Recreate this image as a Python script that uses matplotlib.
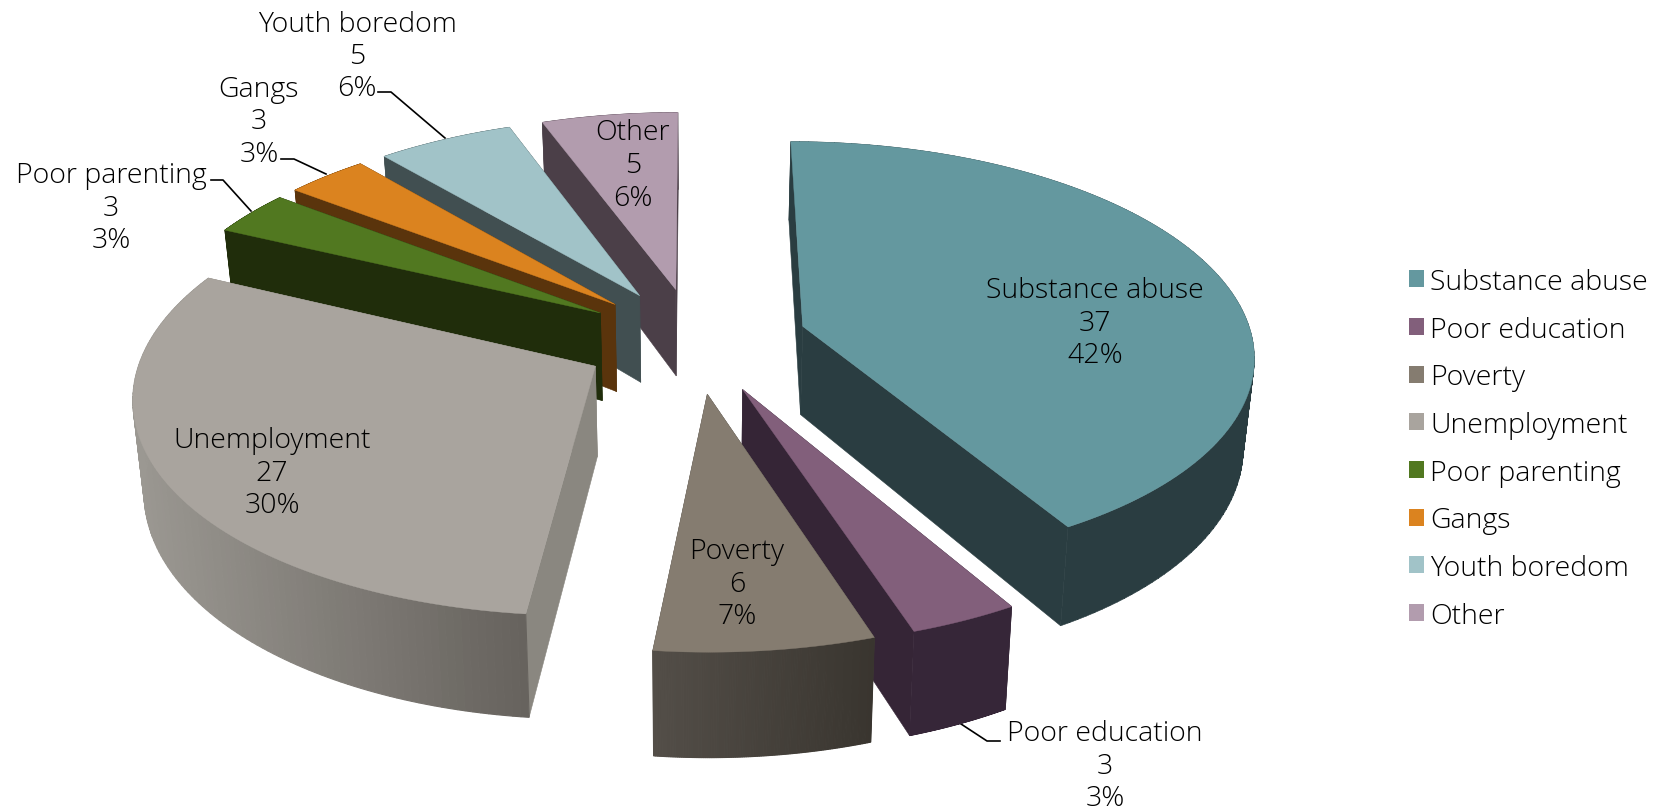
import numpy as np
import matplotlib
matplotlib.use("Agg")
import matplotlib.pyplot as plt
from matplotlib.patches import Patch, PathPatch
from matplotlib.path import Path
from matplotlib.colors import to_rgb

# data
categories = ["Substance abuse", "Poor education", "Poverty", "Unemployment",
              "Poor parenting", "Gangs", "Youth boredom", "Other"]
values = [37, 3, 6, 27, 3, 3, 5, 5]

# colours: top face, rim at left, rim at right, cut face
top_colors = ["#64989F", "#825F7B", "#857C70", "#A9A49E", "#517820", "#DB831F", "#A1C3C8", "#B29CAE"]
rim_left = ["#2A3D41", "#362638", "#534E48", "#9B9892", "#202D0B", "#5A340C", "#414F51", "#4B3F48"]
rim_right = ["#2A3D41", "#362638", "#39352F", "#66625D", "#202D0B", "#5A340C", "#414F51", "#4B3F48"]
cut_colors = ["#2A3D41", "#352536", "#4A453F", "#8A8780", "#202D0B", "#5A340C", "#414F51", "#4B3F48"]

# label centres and leader lines, in figure pixels
label_pos = [(1095, 324), (1105, 767), (737, 585), (272, 474),
             (111, 209), (259, 122), (357, 57), (633, 166)]
leaders = {
    1: [(958, 723), (987, 742), (1000, 742)],
    4: [(211, 181), (223, 181), (251, 212)],
    5: [(281, 160), (294, 160), (326, 175)],
    6: [(378, 93), (391, 93), (445, 139)],
}

# pie geometry
CX, CY = 695, 341
SX, SY = 450, 211
PERSP = 0.125
EXPLODE = 0.25
DEPTH = 89
BOTTOM_SHRINK = 0.98
FONT = "Open Sans"
FSIZE = 20.5
LINE_STEP = 32.5


def project(gx, gy):
    w = 1 / (1 - PERSP * gy)
    return CX + SX * gx * w, CY + SY * gy * w, w


def lower(x, y, w):
    return CX + (x - CX) * BOTTOM_SHRINK, y + DEPTH * w


def slice_points(start, end, explode=EXPLODE, n=120):
    mid = (start + end) / 2
    ox, oy = explode * np.sin(mid), -explode * np.cos(mid)
    th = np.linspace(start, end, n)
    ax_, ay_, aw = project(ox, oy)
    rx, ry, rw = project(ox + np.sin(th), oy - np.cos(th))
    return (ax_, ay_, aw), (rx, ry, rw)


def band_path(rx, ry, bx, by):
    # all quads in one path, same winding, so there are no seams between them
    verts, codes = [], []
    for k in range(len(rx) - 1):
        q = [(rx[k], ry[k]), (rx[k + 1], ry[k + 1]), (bx[k + 1], by[k + 1]), (bx[k], by[k])]
        area = sum(q[m][0] * q[(m + 1) % 4][1] - q[(m + 1) % 4][0] * q[m][1] for m in range(4))
        if area < 0:
            q = q[::-1]
        verts += q + [q[0]]
        codes += [Path.MOVETO, Path.LINETO, Path.LINETO, Path.LINETO, Path.CLOSEPOLY]
    return Path(verts, codes)


fig = plt.figure(figsize=(16.72, 8.12), dpi=100)
ax = fig.add_axes([0, 0, 1, 1])
ax.set_xlim(0, 1672)
ax.set_ylim(812, 0)
ax.axis("off")

fracs = np.array(values) / sum(values)
edges = np.concatenate([[0], np.cumsum(fracs)]) * 2 * np.pi

# back slices first
draw_order = [7, 6, 5, 4, 0, 1, 3, 2]

for pos, i in enumerate(draw_order):
    (ax_, ay_, aw), (rx, ry, rw) = slice_points(edges[i], edges[i + 1])
    bx, by = lower(rx, ry, rw)
    abx, aby = lower(ax_, ay_, aw)

    # cut faces
    for j in (0, -1):
        ax.fill([ax_, rx[j], bx[j], abx], [ay_, ry[j], by[j], aby],
                color=cut_colors[i], lw=0.4, zorder=pos * 3 + 1)

    # rim, split up only when it has a gradient
    if rim_left[i] == rim_right[i]:
        ax.add_patch(PathPatch(band_path(rx, ry, bx, by), facecolor=rim_left[i], edgecolor=rim_left[i],
                               lw=0.4, zorder=pos * 3 + 2))
    else:
        c0 = np.array(to_rgb(rim_left[i]))
        c1 = np.array(to_rgb(rim_right[i]))
        xmin, xmax = rx.min(), rx.max()
        for k in range(len(rx) - 1):
            t = ((rx[k] + rx[k + 1]) / 2 - xmin) / (xmax - xmin)
            ax.fill([rx[k], rx[k + 1], bx[k + 1], bx[k]], [ry[k], ry[k + 1], by[k + 1], by[k]],
                    color=tuple(c0 + (c1 - c0) * t), lw=0.8, zorder=pos * 3 + 2)

    # top face
    ax.fill(np.r_[ax_, rx], np.r_[ay_, ry], color=top_colors[i], lw=0.3, zorder=pos * 3 + 3)

# each label line is its own text, on a shared baseline step
total = sum(values)
for i, (x, y) in enumerate(label_pos):
    lines = [categories[i], str(values[i]), f"{round(values[i] / total * 100)}%"]
    for n, line in enumerate(lines):
        ax.text(x, y + 7 + (n - 1) * LINE_STEP, line, ha="center", va="baseline", family=FONT,
                fontweight="light", fontsize=FSIZE, color="black", zorder=50)

for pts in leaders.values():
    ax.plot([p[0] for p in pts], [p[1] for p in pts], color="black", lw=1.2, zorder=2)

handles = [Patch(facecolor=c, edgecolor="none", label=n) for c, n in zip(top_colors, categories)]
leg = ax.legend(handles=handles, loc="upper left", bbox_to_anchor=(1409 / 1672, 1 - 269 / 812),
                frameon=False, prop={"family": FONT, "size": FSIZE, "weight": "light"}, labelspacing=0.69,
                handlelength=0.54, handleheight=0.54, handletextpad=0.2, borderpad=0, borderaxespad=0)

fig.savefig("out.png", dpi=100)
